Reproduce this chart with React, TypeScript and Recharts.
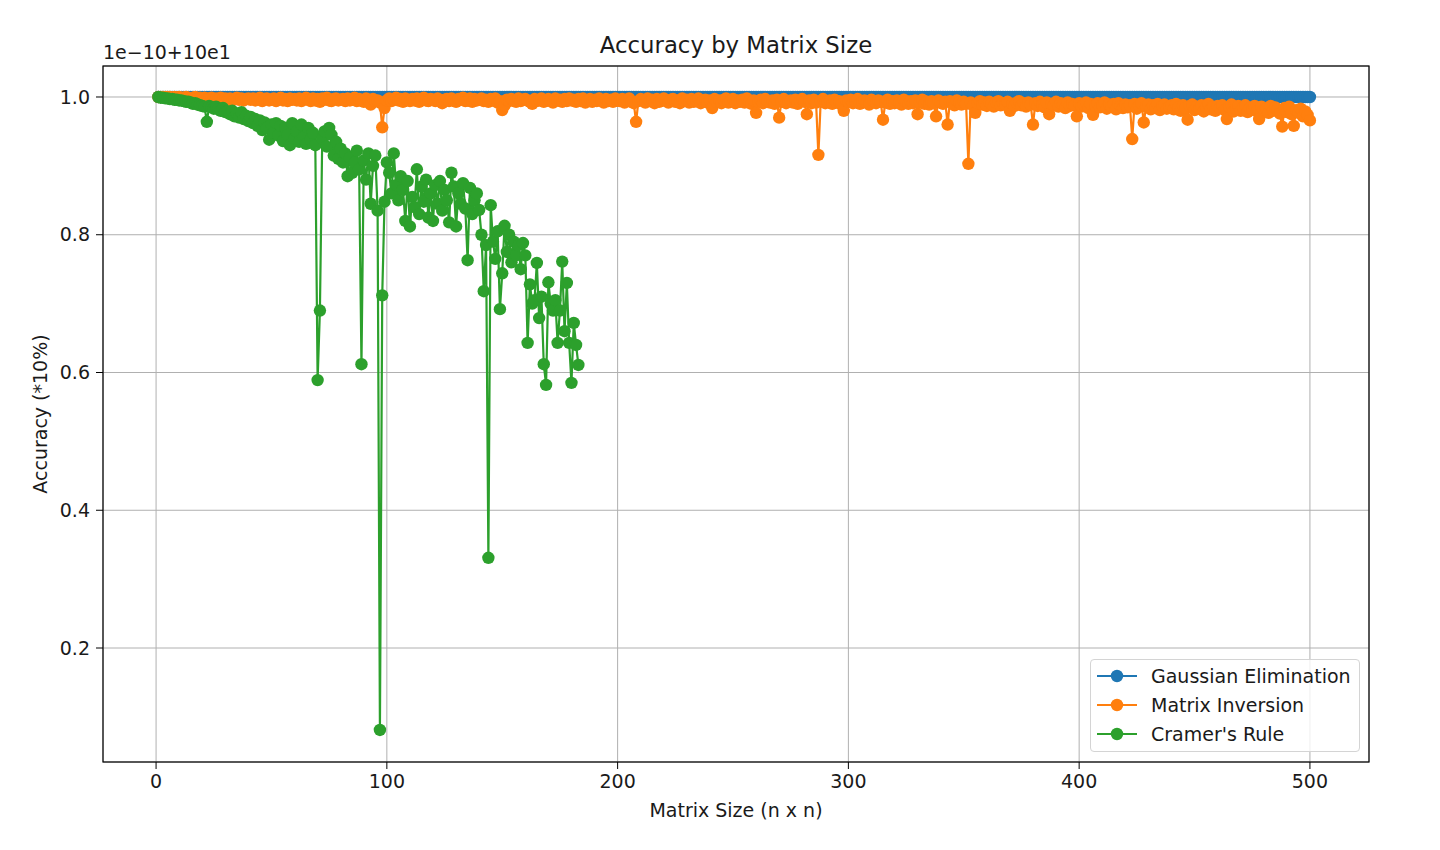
import { CartesianGrid, Legend, Line, LineChart, XAxis, YAxis } from "recharts";

const W = 1440;
const H = 850;
const FONT = '"DejaVu Sans", Verdana, sans-serif';
const INK = "#1a1a1a";

const BLUE = "#1f77b4";
const ORANGE = "#ff7f0e";
const GREEN = "#2ca02c";

const seriesNames = ["Gaussian Elimination", "Matrix Inversion", "Cramer's Rule"];
const xTicks = [0, 100, 200, 300, 400, 500];
const yTicks = [0.2, 0.4, 0.6, 0.8, 1.0];

// n = 1 .. 500
const matrixSizes = Array.from({ length: 500 }, (_, i) => i + 1);

// gaussian elimination sits flat on 1.0 the whole way
const gaussianLevel = 1.0;

// matrix inversion, read as thousandths below 1.0 (20 per row)
const inversionLoss = [
  0, 0, 0, 0, 0, 0, 1, 0, 1, 0, 1, 1, 0, 1, 2, 1, 0, 2, 1, 2,
  1, 3, 2, 1, 3, 2, 4, 1, 3, 2, 4, 2, 5, 3, 1, 4, 2, 5, 3, 2,
  4, 2, 5, 3, 1, 6, 3, 2, 5, 4, 2, 6, 3, 1, 5, 3, 6, 2, 4, 3,
  5, 2, 6, 3, 1, 4, 6, 2, 5, 3, 7, 2, 4, 1, 5, 6, 3, 2, 5, 4,
  3, 6, 2, 5, 4, 1, 6, 3, 5, 7, 2, 4, 11, 3, 6, 5, 8, 44, 16, 5,
  2, 6, 4, 1, 5, 3, 7, 2, 4, 6, 3, 5, 2, 7, 4, 1, 5, 6, 3, 4,
  6, 2, 5, 9, 4, 3, 6, 2, 5, 7, 3, 4, 1, 6, 5, 2, 7, 3, 5, 4,
  2, 6, 4, 7, 3, 5, 2, 8, 6, 19, 12, 4, 6, 3, 5, 7, 2, 6, 4, 3,
  5, 7, 10, 3, 6, 4, 2, 7, 5, 3, 6, 8, 2, 5, 4, 7, 3, 6, 2, 5,
  4, 7, 3, 6, 2, 8, 5, 3, 7, 4, 6, 2, 5, 8, 3, 6, 4, 7, 2, 5,
  6, 3, 8, 4, 2, 7, 9, 36, 6, 3, 5, 8, 2, 6, 4, 9, 3, 7, 5, 2,
  6, 8, 4, 3, 7, 5, 9, 2, 6, 4, 8, 3, 7, 5, 2, 9, 6, 4, 8, 5,
  16, 3, 7, 5, 9, 4, 2, 8, 6, 3, 9, 5, 7, 4, 8, 2, 6, 10, 5, 23,
  7, 4, 9, 3, 6, 8, 5, 10, 4, 30, 7, 3, 9, 6, 5, 8, 4, 10, 6, 3,
  7, 25, 5, 9, 4, 8, 84, 6, 3, 9, 7, 5, 10, 4, 8, 6, 11, 20, 5, 7,
  4, 9, 6, 3, 10, 7, 5, 8, 11, 4, 6, 9, 5, 7, 33, 8, 4, 10, 6, 9,
  5, 8, 11, 4, 7, 10, 6, 9, 5, 25, 8, 4, 10, 7, 11, 6, 9, 28, 5, 8,
  10, 7, 40, 6, 9, 12, 5, 8, 11, 7, 10, 97, 8, 12, 23, 9, 6, 11, 8, 13,
  7, 10, 14, 8, 6, 12, 9, 11, 7, 20, 10, 13, 8, 6, 12, 9, 14, 8, 11, 40,
  9, 13, 7, 11, 15, 8, 25, 10, 12, 7, 14, 9, 11, 16, 8, 13, 10, 12, 28, 9,
  14, 11, 8, 16, 10, 26, 13, 9, 15, 12, 8, 17, 11, 14, 10, 18, 9, 13, 16, 11,
  15, 12, 61, 10, 17, 13, 9, 37, 14, 11, 18, 12, 16, 10, 19, 13, 11, 17, 14, 12,
  18, 10, 15, 20, 12, 16, 33, 13, 11, 19, 14, 17, 12, 21, 15, 10, 18, 14, 20, 13,
  16, 12, 19, 32, 14, 11, 21, 17, 13, 20, 15, 12, 22, 16, 18, 13, 21, 32, 14, 19,
  17, 23, 13, 20, 15, 18, 24, 43, 16, 22, 14, 25, 42, 19, 23, 17, 28, 21, 26, 34,
];

// cramer's rule only runs up to n = 183
const cramerAccuracy = [
  1.0, 0.999, 0.999, 0.998, 0.998, 0.997, 0.997, 0.996, 0.996, 0.995,
  0.995, 0.994, 0.993, 0.993, 0.992, 0.99, 0.991, 0.989, 0.988, 0.987,
  0.986, 0.964, 0.987, 0.985, 0.983, 0.986, 0.982, 0.98, 0.984, 0.978,
  0.979, 0.975, 0.98, 0.972, 0.976, 0.97, 0.978, 0.968, 0.973, 0.965,
  0.971, 0.962, 0.968, 0.958, 0.966, 0.952, 0.963, 0.955, 0.938, 0.96,
  0.948, 0.962, 0.944, 0.958, 0.936, 0.955, 0.945, 0.93, 0.962, 0.94,
  0.95, 0.935, 0.96, 0.942, 0.932, 0.955, 0.938, 0.948, 0.93, 0.589,
  0.69, 0.94, 0.95, 0.928, 0.955, 0.945, 0.915, 0.935, 0.91, 0.925,
  0.905, 0.918, 0.885, 0.912, 0.89, 0.905, 0.922, 0.895, 0.612, 0.908,
  0.88, 0.918, 0.845, 0.9, 0.915, 0.835, 0.081, 0.712, 0.848, 0.905,
  0.89, 0.86, 0.918, 0.872, 0.85, 0.885, 0.865, 0.82, 0.878, 0.812,
  0.855, 0.84, 0.895, 0.83, 0.87, 0.848, 0.88, 0.825, 0.86, 0.82,
  0.872, 0.845, 0.878, 0.835, 0.865, 0.85, 0.818, 0.89, 0.87, 0.812,
  0.86, 0.845, 0.875, 0.838, 0.763, 0.868, 0.83, 0.85, 0.86, 0.836,
  0.8, 0.718, 0.785, 0.331, 0.843, 0.79, 0.765, 0.805, 0.692, 0.744,
  0.813, 0.775, 0.8, 0.76, 0.79, 0.77, 0.785, 0.75, 0.788, 0.77,
  0.643, 0.728, 0.7, 0.705, 0.759, 0.679, 0.71, 0.612, 0.582, 0.731,
  0.7, 0.69, 0.705, 0.643, 0.69, 0.761, 0.66, 0.73, 0.643, 0.585,
  0.672, 0.64, 0.611,
];

const rows = matrixSizes.map((n, i) => ({
  n,
  gauss: gaussianLevel,
  inv: 1 - inversionLoss[i] / 1000,
  cramer: cramerAccuracy[i],
}));

const tickStyle = { fontSize: 19, fill: INK, fontFamily: FONT };
const DOT_R = 6.2;

function LegendBox() {
  const colors = [BLUE, ORANGE, GREEN];
  return (
    <div
      style={{
        width: 270,
        height: 93,
        boxSizing: "border-box",
        border: "1px solid #d4d4d4",
        borderRadius: 4,
        background: "rgba(255,255,255,0.8)",
        padding: "1px 0 0 6px",
        fontFamily: FONT,
        fontSize: 19,
        color: INK,
      }}
    >
      {seriesNames.map((name, i) => (
        <div key={name} style={{ display: "flex", alignItems: "center", height: 29 }}>
          <svg width={40} height={14}>
            <line x1={0} y1={7} x2={40} y2={7} stroke={colors[i]} strokeWidth={2.2} />
            <circle cx={20} cy={7} r={DOT_R} fill={colors[i]} />
          </svg>
          <span style={{ marginLeft: 14, whiteSpace: "nowrap" }}>{name}</span>
        </div>
      ))}
    </div>
  );
}

export default function App() {
  const dot = (c: string) => ({ r: DOT_R, fill: c, stroke: "none" });
  return (
    <div style={{ position: "absolute", left: 0, top: 0, width: W, height: H, background: "#fff" }}>
      <LineChart width={W} height={H} data={rows} margin={{ top: 66, right: 71, bottom: 58, left: 43 }}>
        <CartesianGrid stroke="#b0b0b0" strokeWidth={1} />
        <XAxis
          dataKey="n"
          type="number"
          domain={[-23, 525.6]}
          ticks={xTicks}
          interval={0}
          allowDataOverflow
          height={30}
          axisLine={false}
          tickLine={{ stroke: "#000" }}
          tickSize={7}
          tickMargin={6}
          tick={tickStyle}
        />
        <YAxis
          type="number"
          domain={[0.0345, 1.045]}
          ticks={yTicks}
          interval={0}
          allowDataOverflow
          width={60}
          axisLine={false}
          tickLine={{ stroke: "#000" }}
          tickSize={7}
          tickMargin={6}
          tick={tickStyle}
          tickFormatter={(v: number) => v.toFixed(1)}
        />
        <Line type="linear" dataKey="gauss" name={seriesNames[0]} stroke={BLUE} strokeWidth={2.2} dot={dot(BLUE)} activeDot={false} isAnimationActive={false} />
        <Line type="linear" dataKey="inv" name={seriesNames[1]} stroke={ORANGE} strokeWidth={2.2} dot={dot(ORANGE)} activeDot={false} isAnimationActive={false} />
        <Line type="linear" dataKey="cramer" name={seriesNames[2]} stroke={GREEN} strokeWidth={2.2} dot={dot(GREEN)} activeDot={false} isAnimationActive={false} />
        <Legend
          layout="vertical"
          align="center"
          verticalAlign="middle"
          content={() => <LegendBox />}
          wrapperStyle={{ left: 1090, top: 659, width: 270, height: 93 }}
        />
      </LineChart>
      <svg
        width={W}
        height={H}
        style={{ position: "absolute", left: 0, top: 0, pointerEvents: "none" }}
        fontFamily={FONT}
        fill={INK}
      >
        <rect x={103} y={66} width={1266} height={696} fill="none" stroke="#000" strokeWidth={1.2} />
        <text x={736} y={53} textAnchor="middle" fontSize={22.8}>
          Accuracy by Matrix Size
        </text>
        <text x={103} y={59} fontSize={19}>
          1e−10+10e1
        </text>
        <text x={736} y={817} textAnchor="middle" fontSize={19}>
          Matrix Size (n x n)
        </text>
        <text x={47} y={414} textAnchor="middle" fontSize={19} transform="rotate(-90 47 414)">
          Accuracy (*10%)
        </text>
      </svg>
    </div>
  );
}
